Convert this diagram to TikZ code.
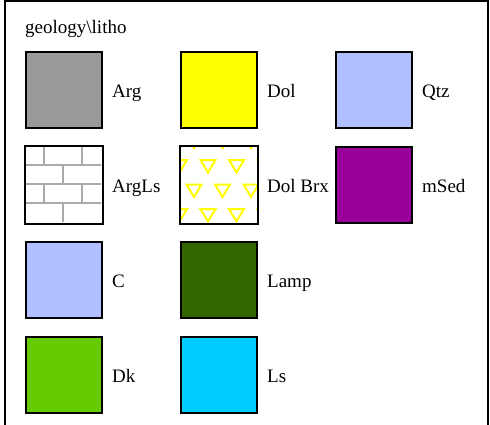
\documentclass[tikz,border=0pt]{standalone}
\usepackage{fontspec}
\setmainfont{Liberation Serif}
\definecolor{cArg}{RGB}{153,153,153}
\definecolor{cDol}{RGB}{255,255,0}
\definecolor{cQtz}{RGB}{175,191,255}
\definecolor{cMSed}{RGB}{153,0,153}
\definecolor{cLamp}{RGB}{51,102,0}
\definecolor{cDk}{RGB}{102,204,0}
\definecolor{cLs}{RGB}{0,204,255}
\definecolor{cBrick}{RGB}{170,170,170}
\tikzset{
  swatch/.style={draw=black, line width=2pt, minimum size=76.5pt, inner sep=0pt, anchor=north west},
  lbl/.style={anchor=base west, inner sep=0pt, font=\fontsize{19}{23}\selectfont},
  brick/.style={draw=cBrick, line width=2pt},
  tri/.style={draw=cDol, line width=2pt, line join=miter},
}
\begin{document}
\begin{tikzpicture}[x=1pt,y=-1pt]
\clip (0,0) rectangle (490,424);
\draw[line width=2pt] (5,1) rectangle (488,440);
\node[anchor=base west, inner sep=0pt, font=\fontsize{19}{23}\selectfont] (title) at (25,33.3) {geology\textbackslash litho};
% row 1
\node[swatch, fill=cArg] (arg) at (24.5,50.5) {};
\node[swatch, fill=cDol] (dol) at (179.5,50.5) {};
\node[swatch, fill=cQtz] (qtz) at (334.5,50.5) {};
% row 2
\node[swatch, fill=white, draw=none] (argls) at (24.5,145.5) {};
\begin{scope}[shift={(24.5,145.5)}]
  \draw[brick] (0,19.1) -- (76.5,19.1) (0,38.2) -- (76.5,38.2) (0,57.3) -- (76.5,57.3);
  \draw[brick] (19,0) -- (19,19.1) (57.5,0) -- (57.5,19.1)
               (38,19.1) -- (38,38.2)
               (19,38.2) -- (19,57.3) (57.5,38.2) -- (57.5,57.3)
               (38,57.3) -- (38,76.5);
\end{scope}
\draw[line width=2pt] (argls.north west) rectangle (argls.south east);
\node[swatch, fill=white, draw=none] (dolbrx) at (179.5,145.5) {};
\begin{scope}
  \clip (dolbrx.north west) rectangle (dolbrx.south east);
  \begin{scope}[shift={(179.5,145.5)}]
    \foreach \t/\o in {-10/14.5, 14.5/0, 39/14.5, 63.5/0}{
      \foreach \k in {-1,0,1,2,3}{
        \pgfmathsetmacro{\cx}{\o+28.5*\k}
        \draw[tri] (\cx-7.5,\t) -- (\cx+7.5,\t) -- (\cx,\t+12.5) -- cycle;
      }
    }
  \end{scope}
\end{scope}
\draw[line width=2pt] (dolbrx.north west) rectangle (dolbrx.south east);
\node[swatch, fill=cMSed] (msed) at (334.5,145.5) {};
% row 3
\node[swatch, fill=cQtz] (c) at (24.5,240.5) {};
\node[swatch, fill=cLamp] (lamp) at (179.5,240.5) {};
% row 4
\node[swatch, fill=cDk] (dk) at (24.5,335.5) {};
\node[swatch, fill=cLs] (ls) at (179.5,335.5) {};
% labels
\node[lbl] (largs) at ([xshift=9pt,yshift=-7.7pt]arg.east) {Arg};
\node[lbl] (ldol) at ([xshift=9pt,yshift=-7.7pt]dol.east) {Dol};
\node[lbl] (lqtz) at ([xshift=9pt,yshift=-7.7pt]qtz.east) {Qtz};
\node[lbl] (largls) at ([xshift=9pt,yshift=-7.7pt]argls.east) {ArgLs};
\node[lbl] (ldolbrx) at ([xshift=9pt,yshift=-7.7pt]dolbrx.east) {Dol Brx};
\node[lbl] (lmsed) at ([xshift=9pt,yshift=-7.7pt]msed.east) {mSed};
\node[lbl] (lc) at ([xshift=9pt,yshift=-7.7pt]c.east) {C};
\node[lbl] (llamp) at ([xshift=9pt,yshift=-7.7pt]lamp.east) {Lamp};
\node[lbl] (ldk) at ([xshift=9pt,yshift=-7.7pt]dk.east) {Dk};
\node[lbl] (lls) at ([xshift=9pt,yshift=-7.7pt]ls.east) {Ls};
\end{tikzpicture}
\end{document}
